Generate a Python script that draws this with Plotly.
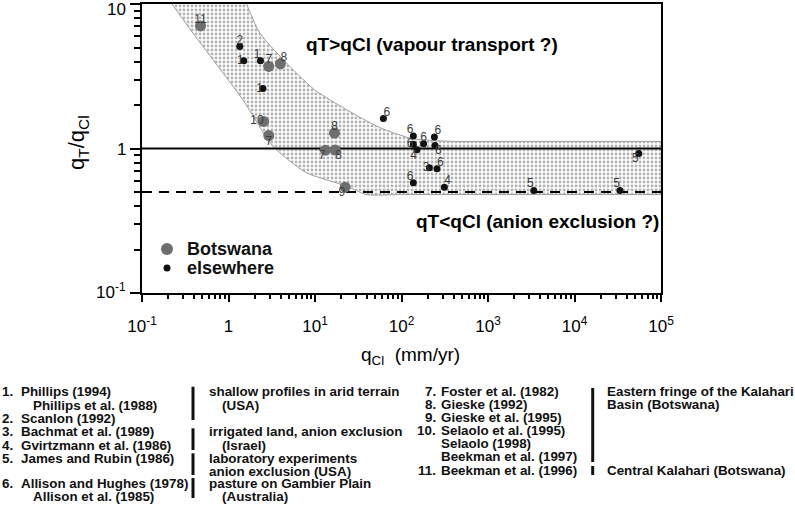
import plotly.graph_objects as go

# ---------------- data ----------------
bots_x = [0.475, 2.92, 3.98, 2.55, 2.92, 16.8, 13.2, 17.1, 22.3]
bots_y = [7.05, 3.7, 3.86, 1.54, 1.23, 1.28, 0.973, 0.976, 0.54]
bots_lab = ["11", "7", "8", "10", "7", "8", "7", "8", "9"]
bots_pos = ["top center", "top center", "top right", "middle left", "bottom center",
            "top center", "bottom left", "bottom right", "bottom left"]

else_x = [1.35, 1.5, 2.34, 2.5, 61.8, 137, 137, 151, 180, 240, 244, 210, 257, 137, 313,
          3380, 33500, 55400]
else_y = [5.08, 4.05, 4.05, 2.6, 1.61, 1.22, 1.07, 0.98, 1.08, 1.2, 1.05, 0.736, 0.725,
          0.58, 0.54, 0.513, 0.513, 0.925]
else_lab = ["2", "1", "1", "1", "6", "6", "6", "4", "6", "6", "6", "3", "6", "6", "4",
            "5", "5", "5"]
else_pos = ["top center", "middle left", "top left", "middle left", "top right", "top left",
            "middle left", "bottom left", "top center", "top right", "bottom right",
            "middle left", "top right", "top left", "top right", "top left", "top left",
            "bottom left"]

band_upper_x = [1.62, 2.3, 5.1, 9.9, 23, 55.6, 134, 386, 1000, 1e5]
band_upper_y = [10, 6.3, 3.7, 2.55, 1.86, 1.4, 1.17, 1.12, 1.12, 1.12]
band_lower_x = [0.222, 0.387, 1.46, 3.24, 7.94, 23, 39, 100, 1e5]
band_lower_y = [10, 6.3, 2.18, 1.04, 0.68, 0.55, 0.48, 0.48, 0.48]

x_ticks = [0.1, 1, 10, 100, 1000, 1e4, 1e5]
x_ticktext = ["10<sup>-1</sup>", "1", "10<sup>1</sup>", "10<sup>2</sup>", "10<sup>3</sup>",
              "10<sup>4</sup>", "10<sup>5</sup>"]
y_ticks = [0.1, 1, 10]
y_ticktext = ["10<sup>-1</sup>", "1", "10"]

legend_names = ["Botswana", "elsewhere"]

ref_left_num = ["1.", "", "2.", "3.", "4.", "5.", "6.", ""]
ref_left_name = ["Phillips (1994)", "Phillips et al. (1988)", "Scanlon (1992)",
                 "Bachmat et al. (1989)", "Gvirtzmann et al. (1986)", "James and Rubin (1986)",
                 "Allison and Hughes (1978)", "Allison et al. (1985)"]
ref_left_desc = ["shallow profiles in arid terrain", "(USA)", "irrigated land, anion exclusion",
                 "(Israel)", "laboratory experiments", "anion exclusion (USA)",
                 "pasture on Gambier Plain", "(Australia)"]
ref_right_num = ["7.", "8.", "9.", "10.", "", "", "11."]
ref_right_name = ["Foster et al. (1982)", "Gieske (1992)", "Gieske et al. (1995)",
                  "Selaolo et al. (1995)", "Selaolo (1998)", "Beekman et al. (1997)",
                  "Beekman et al. (1996)"]
ref_right_desc = ["Eastern fringe of the Kalahari", "Basin (Botswana)",
                  "Central Kalahari (Botswana)"]

# ---------------- layout helpers ----------------
W, H = 795, 509
L, R, T, B = 142, 134, 4, 216
PW, PH = W - L - R, H - T - B
FONT = "Liberation Sans, Arial, sans-serif"
BOTS_COL = "#6e6e6e"
ELSE_COL = "#111111"


def px(x):
    return (x - L) / PW


def py(y):
    return (H - B - y) / PH


def note(x, y, text, font, xanchor="left", **kw):
    return dict(x=px(x), y=py(y), xref="paper", yref="paper", showarrow=False,
                xanchor=xanchor, yanchor="middle", text=text, font=font, **kw)


fig = go.Figure()

# shaded band: lower edge, then upper edge filled to it
fig.add_trace(go.Scatter(
    x=band_lower_x, y=band_lower_y, mode="lines",
    line=dict(color="#a0a0a0", width=1, shape="spline", smoothing=0.6),
    hoverinfo="skip", showlegend=False))
fig.add_trace(go.Scatter(
    x=band_upper_x, y=band_upper_y, mode="lines", fill="tonexty",
    line=dict(color="#a0a0a0", width=1, shape="spline", smoothing=0.6),
    fillcolor="white",
    fillpattern=dict(shape=".", fgcolor="#666666", bgcolor="white", size=4, solidity=0.4),
    hoverinfo="skip", showlegend=False))

# reference lines
fig.add_trace(go.Scatter(x=[x_ticks[0], x_ticks[-1]], y=[1, 1], mode="lines",
                         line=dict(color="black", width=2), showlegend=False, hoverinfo="skip"))
fig.add_trace(go.Scatter(x=[x_ticks[0], x_ticks[-1]], y=[0.5, 0.5], mode="lines",
                         line=dict(color="black", width=2, dash="10px,7px"),
                         showlegend=False, hoverinfo="skip"))

# points
fig.add_trace(go.Scatter(x=bots_x, y=bots_y, mode="markers", name=legend_names[0],
                         marker=dict(color=BOTS_COL, size=11), showlegend=False))
fig.add_trace(go.Scatter(x=else_x, y=else_y, mode="markers", name=legend_names[1],
                         marker=dict(color=ELSE_COL, size=7), showlegend=False))
# point labels
lab_font = dict(size=12, color="#3c3c3c", family=FONT)
fig.add_trace(go.Scatter(x=bots_x, y=bots_y, mode="text", text=bots_lab, textposition=bots_pos,
                         textfont=lab_font, showlegend=False, hoverinfo="skip"))
fig.add_trace(go.Scatter(x=else_x, y=else_y, mode="text", text=else_lab, textposition=else_pos,
                         textfont=lab_font, showlegend=False, hoverinfo="skip"))

minor_x = [k * 10 ** d for d in range(-1, 5) for k in range(2, 10)]
minor_y = [k * 10 ** d for d in range(-1, 1) for k in range(2, 10)]

fig.update_xaxes(type="log", range=[-1, 5], showline=True, linewidth=2, linecolor="black",
                 mirror=True, showgrid=False, zeroline=False, automargin=False,
                 tickmode="array", tickvals=x_ticks, ticktext=x_ticktext,
                 ticks="outside", ticklen=7, tickwidth=2, tickcolor="black",
                 ticklabelstandoff=10,
                 tickfont=dict(size=17, color="black", family=FONT),
                 minor=dict(tickmode="array", tickvals=minor_x, ticks="outside", ticklen=4,
                            tickwidth=1.5, tickcolor="black", showgrid=False))
fig.update_yaxes(type="log", range=[-1, 1], showline=True, linewidth=2, linecolor="black",
                 mirror=True, showgrid=False, zeroline=False, automargin=False,
                 tickmode="array", tickvals=y_ticks, ticktext=["", "", ""],
                 ticks="outside", ticklen=10, tickwidth=2, tickcolor="black",
                 minor=dict(tickmode="array", tickvals=minor_y, ticks="outside", ticklen=6,
                            tickwidth=1.5, tickcolor="black", showgrid=False))

ann = []
tick_font = dict(size=17, color="black", family=FONT)
# y tick labels (drawn as annotations so the top one is not clipped)
for txt, yy in zip(y_ticktext, [291, 149, 9]):
    ann.append(note(128, yy, txt, tick_font, xanchor="right"))
# axis titles
ann.append(note(410, 356, "q<sub>Cl</sub> &nbsp;(mm/yr)",
                dict(size=19, color="black", family=FONT), xanchor="center"))
ann.append(note(78, 143, "q<sub>T</sub>/q<sub>Cl</sub>",
                dict(size=22, color="black", family=FONT), xanchor="center", textangle=-90))
# region labels
big_font = dict(size=19, color="black", family=FONT)
ann.append(note(304, 45, "<b>qT>qCl (vapour transport ?)</b>", big_font))
ann.append(note(414, 221, "<b>qT<qCl (anion exclusion ?)</b>", big_font))
# manual legend text
for name, yy in zip(legend_names, [249, 268]):
    ann.append(note(185, yy, "<b>" + name + "</b>", dict(size=18, color="#111", family=FONT)))

# reference list
ref_font = dict(size=13.4, color="#111", family=FONT)
left_y = [391.7, 405, 418.3, 431.7, 445.3, 458.3, 483.3, 496.7]
for num, name, yy in zip(ref_left_num, ref_left_name, left_y):
    if num:
        ann.append(note(0, yy, "<b>" + num + "</b>", ref_font))
    ann.append(note(19 if num else 31, yy, "<b>" + name + "</b>", ref_font))
desc_y = [391.7, 405, 431.7, 445.3, 458.3, 471.7, 483.3, 496.7]
for d, yy in zip(ref_left_desc, desc_y):
    indent = d.startswith("(")
    ann.append(note(220 if indent else 207, yy, "<b>" + d + "</b>", ref_font))
right_y = [391.7, 404.3, 417, 430.3, 443.6, 456.9, 470.2]
for num, name, yy in zip(ref_right_num, ref_right_name, right_y):
    if num:
        ann.append(note(438, yy, "<b>" + num + "</b>", ref_font, xanchor="right"))
    ann.append(note(439, yy, "<b>" + name + "</b>", ref_font))
for d, yy in zip(ref_right_desc, [391.7, 404.3, 470.2]):
    ann.append(note(605, yy, "<b>" + d + "</b>", ref_font))

shapes = []
for x0, (ya, yb) in [(193, (386.7, 420)), (193, (428.3, 450)), (193, (453.3, 475)),
                     (193, (478, 498)), (592.7, (388, 462)), (592.7, (466, 475))]:
    shapes.append(dict(type="line", xref="paper", yref="paper", x0=px(x0), x1=px(x0),
                       y0=py(ya), y1=py(yb), line=dict(color="#111", width=3)))
# manual legend markers
for col, r, yy in [(BOTS_COL, 6, 249), (ELSE_COL, 3.5, 268)]:
    shapes.append(dict(type="circle", xref="paper", yref="paper", xsizemode="pixel",
                       ysizemode="pixel", xanchor=px(167), yanchor=py(yy),
                       x0=-r, x1=r, y0=-r, y1=r, fillcolor=col, line=dict(width=0)))

fig.update_layout(
    width=W, height=H, autosize=False,
    margin=dict(l=L, r=R, t=T, b=B),
    paper_bgcolor="white", plot_bgcolor="white",
    font=dict(family=FONT, color="black"),
    annotations=ann, shapes=shapes,
    showlegend=False,
)

fig.write_html("out.html", config={"displayModeBar": False},
               post_script="document.body.style.margin='0';document.body.style.padding='0';")
